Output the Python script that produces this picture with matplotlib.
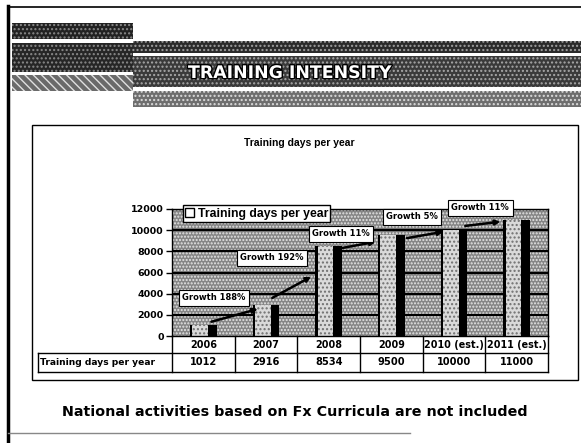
import matplotlib
matplotlib.use("Agg")
import matplotlib.pyplot as plt
import matplotlib.patheffects as pe
from matplotlib.patches import Rectangle, Patch

# data
years = ["2006", "2007", "2008", "2009", "2010 (est.)", "2011 (est.)"]
training_days = [1012, 2916, 8534, 9500, 10000, 11000]
series_name = "Training days per year"

growth_labels = ["Growth 188%", "Growth 192%", "Growth 11%", "Growth 5%", "Growth 11%"]
growth_label_x = [0.17, 1.09, 2.2, 3.33, 4.42]
growth_label_y = [3600, 7400, 9650, 11250, 12100]

# arrows between bars (start / end positions)
arrow_x0 = [0.13, 1.1, 2.2, 3.25, 4.18]
arrow_y0 = [1350, 3600, 8300, 9250, 10400]
arrow_x1 = [0.87, 1.72, 2.75, 3.83, 4.74]
arrow_y1 = [2550, 5600, 8900, 9850, 10800]

yticks = [0, 2000, 4000, 6000, 8000, 10000, 12000]

W, H = 581, 443
fig = plt.figure(figsize=(W / 100, H / 100), dpi=100)
fig.patch.set_facecolor("white")

# background axes in pixel units for the slide decoration
bg = fig.add_axes([0, 0, 1, 1], zorder=-1)
bg.set_xlim(0, W)
bg.set_ylim(H, 0)
bg.axis("off")

def band(x, y, w, h, fc, hc, hatch="...."):
    bg.add_patch(Rectangle((x, y), w, h, facecolor=fc, edgecolor=hc,
                           hatch=hatch, linewidth=0))

# left blocks
band(12, 23, 121, 16, "#222222", "#8a8a8a")
band(12, 43, 121, 29, "#262626", "#8a8a8a")
band(12, 75, 121, 16, "#6a6a6a", "#e0e0e0", hatch="\\\\\\\\")
# right bands
band(133, 41, 448, 12, "#2a2a2a", "#a0a0a0")
band(133, 56, 448, 31, "#3a3a3a", "#a8a8a8")
band(133, 91, 448, 16, "#6e6e6e", "#dcdcdc")

# slide frame
bg.plot([8, 8], [6, 443], color="black", lw=2.5)
bg.plot([8, 581], [7, 7], color="black", lw=1.2)
bg.plot([8, 410], [433, 433], color="#888888", lw=1)

bg.text(188, 73, "TRAINING INTENSITY", color="white", fontsize=12.5,
        fontweight="bold", family="DejaVu Sans", va="center", ha="left",
        path_effects=[pe.withStroke(linewidth=2, foreground="black")])

# chart box
bg.add_patch(Rectangle((32, 125), 546, 255, facecolor="white",
                       edgecolor="black", linewidth=1))
bg.text(299, 143, "Training days per year", fontsize=7.5, fontweight="bold",
        family="Liberation Sans", ha="center", va="center")

bg.text(295, 412, "National activities based on Fx Curricula are not included",
        fontsize=10.3, fontweight="bold", family="DejaVu Sans",
        ha="center", va="center")

# main plot
ax = fig.add_axes([172 / W, (H - 336) / H, (548 - 172) / W, (336 - 209) / H])
ax.set_xlim(-0.5, len(years) - 0.5)
ax.set_ylim(0, 12000)
ax.add_patch(Rectangle((0, 0), 1, 1, transform=ax.transAxes, facecolor="#858585",
                       edgecolor="#e6e6e6", hatch=".....", linewidth=0, zorder=0))
for yv in yticks[1:]:
    ax.axhline(yv, color="black", lw=1.6, zorder=1)

x = list(range(len(years)))
bw = 0.43
ax.bar(x, training_days, width=bw, color="#dadada", edgecolor="#707070",
       hatch="....", linewidth=0, zorder=2)
ax.bar([i + bw / 2 - 0.07 for i in x], training_days, width=0.14,
       color="black", linewidth=0, zorder=3)
ax.bar([i - bw / 2 + 0.02 for i in x], training_days, width=0.04,
       color="black", linewidth=0, zorder=3)

for i in range(len(arrow_x0)):
    ax.annotate("", xy=(arrow_x1[i], arrow_y1[i]), xytext=(arrow_x0[i], arrow_y0[i]),
                arrowprops=dict(arrowstyle="-|>", color="black", lw=1.8,
                                mutation_scale=7, shrinkA=0, shrinkB=0),
                zorder=4)

for lx, ly, lab in zip(growth_label_x, growth_label_y, growth_labels):
    ax.text(lx, ly, lab, fontsize=6, fontweight="bold", family="DejaVu Sans",
            ha="center", va="center", zorder=5, clip_on=False,
            bbox=dict(boxstyle="square,pad=0.4", fc="white", ec="black", lw=0.8))

ax.set_yticks(yticks)
ax.set_yticklabels([str(t) for t in yticks], fontsize=6.8, fontweight="bold",
                   family="DejaVu Sans")
ax.tick_params(axis="y", length=4, width=1, pad=2)
ax.set_xticks([])
for s in ax.spines.values():
    s.set_color("black")
    s.set_linewidth(1)

leg = ax.legend(handles=[Patch(facecolor="white", edgecolor="black")],
                labels=[series_name], loc="upper left",
                bbox_to_anchor=(0.029, 1.03), borderaxespad=0, fancybox=False,
                framealpha=1, edgecolor="black", handlelength=0.7,
                handleheight=0.7, handletextpad=0.3, borderpad=0.2,
                prop=dict(family="Liberation Sans", weight="bold", size=8.8))
leg.get_frame().set_linewidth(1)
leg.set_zorder(6)

# data table under the axis
tx = ax.get_xaxis_transform()
r1, r2 = -0.134, -0.283
label_left = (38 - 172) / (548 - 172)
for i in range(len(years) + 1):
    ax.plot([i - 0.5, i - 0.5], [0, r2], color="black", lw=1,
            transform=tx, clip_on=False)
ax.plot([label_left, 1], [r1, r1], color="black", lw=1,
        transform=ax.transAxes, clip_on=False)
ax.plot([label_left, 1], [r2, r2], color="black", lw=1,
        transform=ax.transAxes, clip_on=False)
ax.plot([label_left, label_left], [r1, r2], color="black", lw=1,
        transform=ax.transAxes, clip_on=False)

for i, (yr, v) in enumerate(zip(years, training_days)):
    ax.text(i, r1 / 2, yr, transform=tx, ha="center", va="center",
            fontsize=6.9, fontweight="bold", family="DejaVu Sans")
    ax.text(i, (r1 + r2) / 2, str(v), transform=tx, ha="center", va="center",
            fontsize=7.1, fontweight="bold", family="DejaVu Sans")
ax.text(label_left + 0.006, (r1 + r2) / 2, series_name, transform=ax.transAxes,
        ha="left", va="center", fontsize=6.6, fontweight="bold",
        family="DejaVu Sans")

fig.savefig("out.png", dpi=100)
